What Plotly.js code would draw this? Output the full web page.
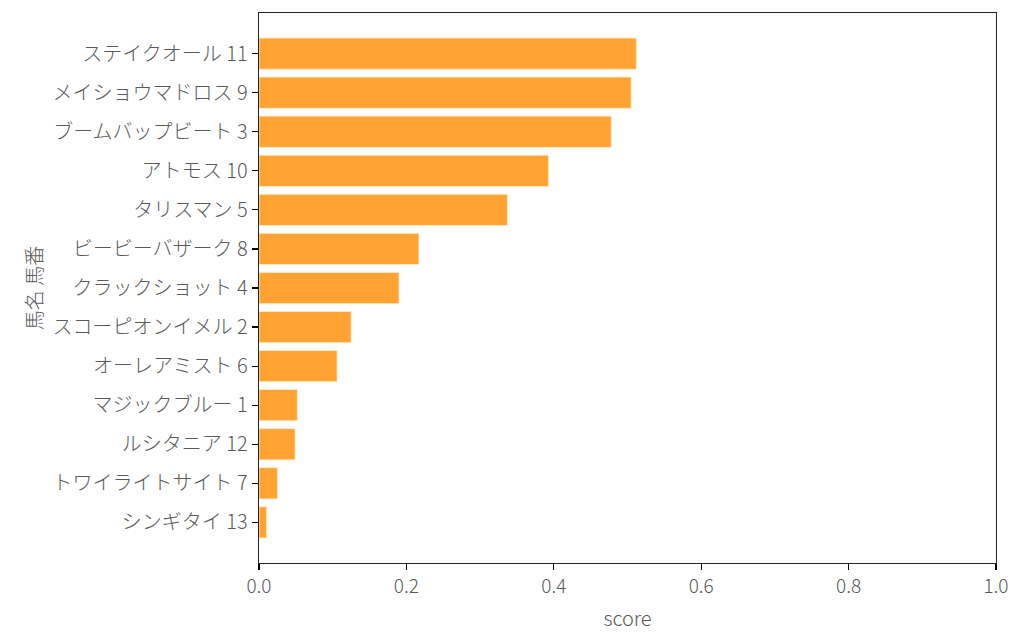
<!DOCTYPE html>
<html>
<head>
<meta charset="utf-8">
<script src="https://cdn.plot.ly/plotly-3.0.1.min.js"></script>
<style>
  html, body { margin: 0; padding: 0; background: #fff; }
  #chart { width: 1024px; height: 644px; }
</style>
</head>
<body>
<div id="chart"></div>
<script>
// horse label (name + number), top to bottom as drawn
const horses = [
  'ステイクオール 11', 'メイショウマドロス 9', 'ブームバップビート 3', 'アトモス 10',
  'タリスマン 5', 'ビービーバザーク 8', 'クラックショット 4', 'スコーピオンイメル 2',
  'オーレアミスト 6', 'マジックブルー 1', 'ルシタニア 12', 'トワイライトサイト 7', 'シンギタイ 13'
];
const scores = [0.512, 0.505, 0.478, 0.393, 0.337, 0.217, 0.190, 0.125, 0.106, 0.052, 0.049, 0.025, 0.0105];

const FONT = '"Noto Sans CJK JP", "Noto Sans", sans-serif';
const TXT = '#595959';

// bottom-up order for plotly's category axis
const yCats = horses.slice().reverse();
const xVals = scores.slice().reverse();

const trace = {
  type: 'bar',
  orientation: 'h',
  x: xVals,
  y: yCats,
  width: 0.8,
  marker: { color: '#FFA334', line: { color: 'rgba(255,235,200,0.9)', width: 1 } },
  hoverinfo: 'x+y',
};

const layout = {
  width: 1024,
  height: 644,
  paper_bgcolor: '#fff',
  plot_bgcolor: '#fff',
  margin: { l: 259, r: 28, t: 13, b: 81 },
  font: { family: FONT, color: TXT, size: 20, weight: 300 },
  showlegend: false,
  bargap: 0.2,
  xaxis: {
    range: [0, 1],
    tickvals: [0, 0.2, 0.4, 0.6, 0.8, 1.0],
    ticktext: ['0.0', '0.2', '0.4', '0.6', '0.8', '1.0'],
    ticks: 'outside', ticklen: 6, tickwidth: 1.2, tickcolor: '#000',
    showline: true, linecolor: '#222', linewidth: 1.3, mirror: true,
    showgrid: false, zeroline: false,
    tickfont: { family: FONT, size: 19, color: TXT, weight: 300 },
    title: { text: 'score', font: { family: FONT, size: 20, color: TXT, weight: 300 }, standoff: 15 },
  },
  yaxis: {
    type: 'category',
    range: [-1.04, 13 - 1 + 1.04],
    ticks: 'outside', ticklen: 6, tickwidth: 1.2, tickcolor: '#000',
    showline: true, linecolor: '#222', linewidth: 1.3, mirror: true,
    showgrid: false, zeroline: false,
    tickfont: { family: FONT, size: 20, color: TXT, weight: 300 },
    title: { text: '馬名 馬番', font: { family: FONT, size: 20, color: TXT, weight: 300 }, standoff: 4 },
  },
};

Plotly.newPlot('chart', [trace], layout, { displayModeBar: false, staticPlot: true });
</script>
</body>
</html>
